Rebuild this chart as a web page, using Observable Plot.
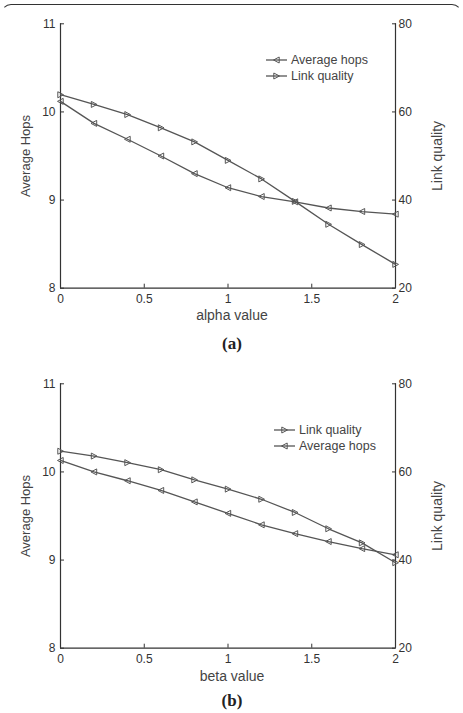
<!DOCTYPE html>
<html>
<head>
<meta charset="utf-8">
<script src="https://cdn.jsdelivr.net/npm/d3@7"></script>
<script src="https://cdn.jsdelivr.net/npm/@observablehq/plot@0.6"></script>
<style>
  body { margin: 0; background: #fff; }
  #wrap { position: relative; width: 463px; height: 713px; overflow: hidden; background: #fff; }
  .frame { position: absolute; left: 1px; top: 4px; width: 461px; height: 24px;
           border-top: 1.5px solid #333; border-left: 1.5px solid transparent; border-right: 1.5px solid transparent;
           border-radius: 10px 10px 0 0; box-sizing: border-box; }
  .panel { position: absolute; left: 0; }
</style>
</head>
<body>
<div id="wrap"><div class="frame"></div></div>
<script>
// Parameter values on the x axis
const alphaValues = [0, 0.2, 0.4, 0.6, 0.8, 1.0, 1.2, 1.4, 1.6, 1.8, 2.0];
const betaValues  = [0, 0.2, 0.4, 0.6, 0.8, 1.0, 1.2, 1.4, 1.6, 1.8, 2.0];

// (a) varying alpha
const alphaHops        = [10.12, 9.87, 9.69, 9.50, 9.30, 9.14, 9.04, 8.98, 8.91, 8.87, 8.84];
const alphaLinkQuality = [63.9, 61.7, 59.4, 56.4, 53.2, 49.0, 44.8, 39.7, 34.5, 29.9, 25.4];

// (b) varying beta
const betaHops        = [10.13, 10.00, 9.90, 9.79, 9.66, 9.53, 9.40, 9.30, 9.21, 9.13, 9.06];
const betaLinkQuality = [64.7, 63.6, 62.1, 60.5, 58.2, 56.1, 53.8, 50.8, 47.1, 43.9, 39.4];

// Axis ticks
const xTicks    = [0, 0.5, 1, 1.5, 2];
const hopsTicks = [8, 9, 10, 11];
const linkTicks = [20, 40, 60, 80];

const hopsDomain = [8, 11];
const linkDomain = [20, 80];
// link quality is drawn on the right axis, mapped onto the hops scale
const toHops = v => hopsDomain[0] + (v - linkDomain[0]) * (hopsDomain[1] - hopsDomain[0]) / (linkDomain[1] - linkDomain[0]);
const toLink = v => linkDomain[0] + (v - hopsDomain[0]) * (linkDomain[1] - linkDomain[0]) / (hopsDomain[1] - hopsDomain[0]);

const ink = "#333";
const lineColor = "#555";
const font = "'Liberation Sans', Arial, sans-serif";
const fmt = d3.format("~g");

// hollow triangle markers
const triLeft = { draw(ctx, size) { const s = Math.sqrt(size / Math.PI);
  ctx.moveTo(-s, 0); ctx.lineTo(s * 0.9, -s); ctx.lineTo(s * 0.9, s); ctx.closePath(); } };
const triRight = { draw(ctx, size) { const s = Math.sqrt(size / Math.PI);
  ctx.moveTo(s, 0); ctx.lineTo(-s * 0.9, -s); ctx.lineTo(-s * 0.9, s); ctx.closePath(); } };

function panel({xs, hops, link, xLabel, tag, top, labelDy, tagDy, legendOrder, legendPos}) {
  const hopsData = xs.map((x, i) => ({x, y: hops[i]}));
  const linkData = xs.map((x, i) => ({x, y: toHops(link[i])}));
  const chart = Plot.plot({
    width: 463, height: 360,
    marginLeft: 60, marginRight: 68, marginTop: 23.3, marginBottom: 72.3,
    style: {fontFamily: font, fontSize: "12px", color: ink, background: "transparent", overflow: "visible"},
    x: {domain: [0, 2]},
    y: {domain: hopsDomain},
    marks: [
      Plot.ruleX([0], {stroke: ink, strokeWidth: 1.2}),
      Plot.ruleX([2], {stroke: ink, strokeWidth: 1.2}),
      Plot.ruleY([8], {stroke: ink, strokeWidth: 1.2}),
      Plot.axisX(xTicks, {anchor: "bottom", tickSize: -4, tickPadding: 10, label: null, tickFormat: fmt, stroke: ink, fill: ink}),
      Plot.axisY(hopsTicks, {anchor: "left", tickSize: -4, tickPadding: 9, label: null, tickFormat: fmt, stroke: ink, fill: ink}),
      Plot.axisY(linkTicks.map(toHops), {anchor: "right", tickSize: -4, tickPadding: 7, label: null,
        tickFormat: d => String(Math.round(toLink(d))), stroke: ink, fill: ink}),
      Plot.line(hopsData, {x: "x", y: "y", stroke: lineColor, strokeWidth: 1.3}),
      Plot.line(linkData, {x: "x", y: "y", stroke: lineColor, strokeWidth: 1.3}),
      Plot.dot(hopsData, {x: "x", y: "y", symbol: triLeft, r: 3, stroke: lineColor, fill: "none", strokeWidth: 1}),
      Plot.dot(linkData, {x: "x", y: "y", symbol: triRight, r: 3, stroke: lineColor, fill: "none", strokeWidth: 1}),
      Plot.text([xLabel], {frameAnchor: "bottom", dy: labelDy, dx: 4, lineAnchor: "middle", fontSize: 14, fill: "#444"}),
      Plot.text(["Average Hops"], {frameAnchor: "left", dx: -35, rotate: -90, textAnchor: "middle", lineAnchor: "middle", fontSize: 13, fill: "#444"}),
      Plot.text(["Link quality"], {frameAnchor: "right", dx: 42, rotate: -90, textAnchor: "middle", lineAnchor: "middle", fontSize: 14, fill: "#444"}),
      Plot.text([tag], {frameAnchor: "bottom", dy: tagDy, dx: 4, lineAnchor: "middle", fontSize: 17,
        fontWeight: "bold", fontFamily: "'Liberation Serif', 'Times New Roman', serif", fill: "#222"})
    ]
  });
  chart.classList.add("panel");
  chart.style.top = top + "px";

  // legend
  const g = d3.select(chart).append("g").attr("transform", `translate(${legendPos[0]},${legendPos[1]})`)
    .attr("text-anchor", "start");
  legendOrder.forEach((name, i) => {
    const row = g.append("g").attr("transform", `translate(0,${i * 16})`);
    row.append("line").attr("x1", 0).attr("x2", 21).attr("y1", 0).attr("y2", 0)
      .attr("stroke", lineColor).attr("stroke-width", 1.3);
    const sym = name === "Average hops" ? triLeft : triRight;
    row.append("path").attr("d", d3.symbol(sym, 3 * 3 * Math.PI)()).attr("transform", "translate(10.5,0)")
      .attr("fill", "none").attr("stroke", lineColor);
    row.append("text").attr("x", 25).attr("y", 0).attr("dy", "0.35em").attr("text-anchor", "start")
      .attr("font-family", font).attr("font-size", 12.5).attr("fill", "#444").text(name);
  });
  document.getElementById("wrap").appendChild(chart);
}

panel({xs: alphaValues, hops: alphaHops, link: alphaLinkQuality, xLabel: "alpha value", tag: "(a)",
       top: 0, labelDy: 27.5, tagDy: 55.5, legendOrder: ["Average hops", "Link quality"], legendPos: [266, 60]});
panel({xs: betaValues, hops: betaHops, link: betaLinkQuality, xLabel: "beta value", tag: "(b)",
       top: 360, labelDy: 28, tagDy: 52.5, legendOrder: ["Link quality", "Average hops"], legendPos: [274, 70]});
</script>
</body>
</html>
